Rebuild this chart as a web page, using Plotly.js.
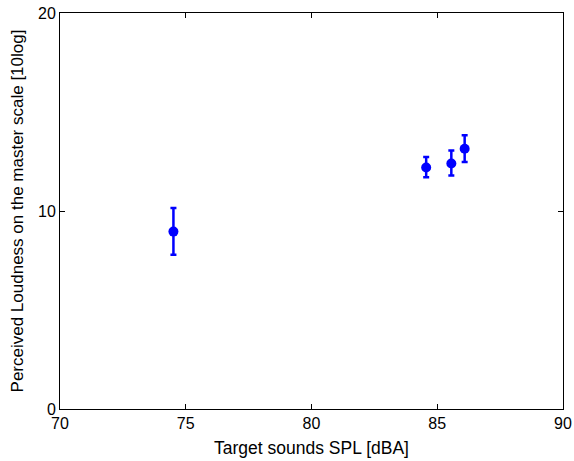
<!DOCTYPE html>
<html><head><meta charset="utf-8">
<script src="https://cdn.plot.ly/plotly-3.0.1.min.js"></script>
<style>html,body{margin:0;padding:0;background:#fff;}</style>
</head><body><div id="chart" style="width:574px;height:461px;"></div>
<script>
const spl = [74.51, 84.56, 85.56, 86.09];
const loudness = [8.96, 12.20, 12.40, 13.14];
const errUpper = [10.15, 12.73, 13.06, 13.82];
const errLower = [7.79, 11.71, 11.79, 12.47];
const xTicks = [70, 75, 80, 85, 90];
const yTicks = [0, 10, 20];

const plus = loudness.map((v, i) => errUpper[i] - v);
const minus = loudness.map((v, i) => v - errLower[i]);

const trace = {
  x: spl, y: loudness, type: 'scatter', mode: 'markers',
  marker: {color: '#0000ff', size: 10},
  error_y: {type: 'data', symmetric: false, array: plus, arrayminus: minus,
            color: '#0000ff', thickness: 2.5, width: 3},
  showlegend: false
};
const axisCommon = {
  showline: true, linecolor: '#000', linewidth: 1, mirror: 'ticks',
  ticks: 'inside', ticklen: 5, tickcolor: '#000', showgrid: false, zeroline: false,
  tickfont: {family: 'Liberation Sans, Arial, sans-serif', size: 16, color: '#000'}
};
const layout = {
  width: 574, height: 461,
  margin: {l: 60, r: 11, t: 13, b: 52},
  paper_bgcolor: '#fff', plot_bgcolor: '#fff',
  xaxis: Object.assign({}, axisCommon, {
    range: [70, 90], tickvals: xTicks, ticktext: xTicks.map(String),
    title: {text: 'Target sounds SPL [dBA]', standoff: 10,
            font: {family: 'Liberation Sans, Arial, sans-serif', size: 17.5, color: '#000'}}
  }),
  yaxis: Object.assign({}, axisCommon, {
    range: [0, 20], tickvals: yTicks, ticktext: yTicks.map(String),
    title: {text: 'Perceived Loudness on the master scale [10log]', standoff: 10,
            font: {family: 'Liberation Sans, Arial, sans-serif', size: 17, color: '#000'}}
  })
};
Plotly.newPlot('chart', [trace], layout, {staticPlot: true, displayModeBar: false});
</script></body></html>
